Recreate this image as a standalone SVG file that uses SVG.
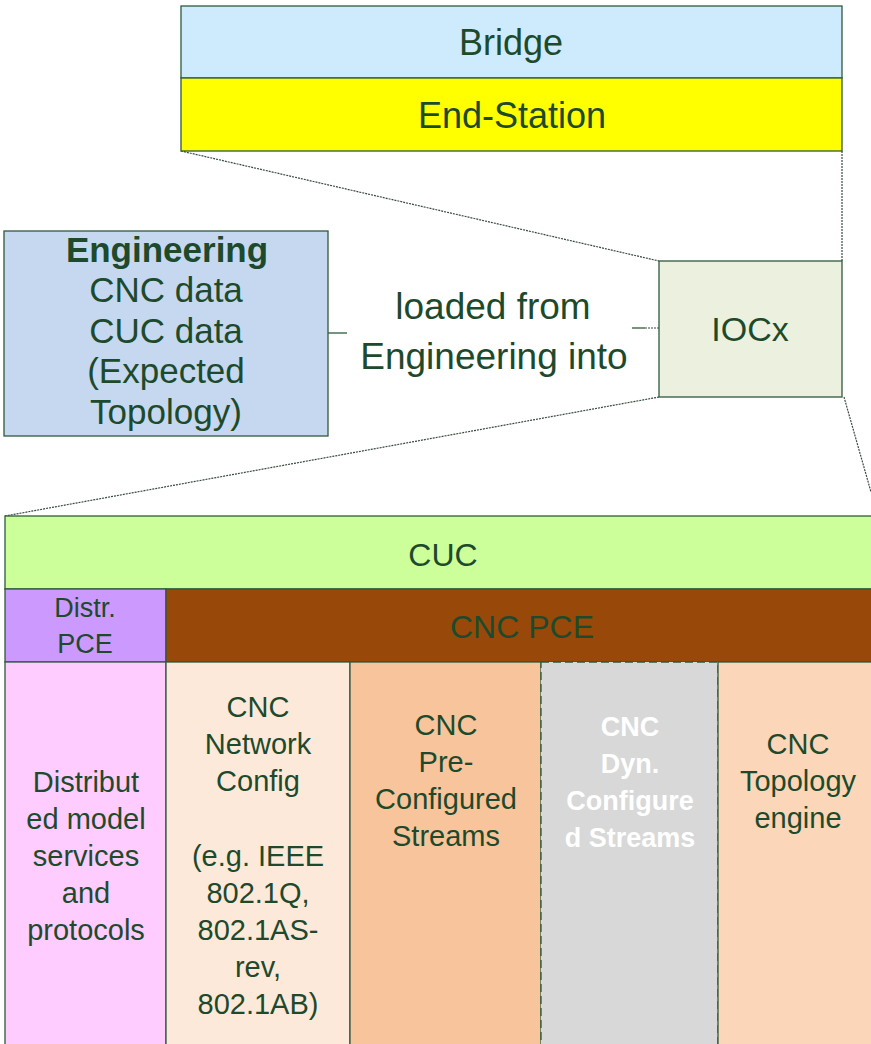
<svg xmlns="http://www.w3.org/2000/svg" width="871" height="1044" viewBox="0 0 871 1044">
<style>
text{font-family:"Liberation Sans",Arial,sans-serif;fill:#1d4a2c;text-anchor:middle}
.b{stroke:#2e5a3c;stroke-width:1.3}
.dot{stroke:#3a4a40;stroke-width:1.2;stroke-dasharray:2 1;fill:none}
.t28{font-size:29px}
.w{fill:#ffffff;font-weight:bold;font-size:27px}
</style>
<rect width="871" height="1044" fill="#ffffff"/>
<g id="connectors">
<line class="dot" x1="181" y1="151" x2="659" y2="261"/>
<line class="dot" x1="842" y1="151" x2="842" y2="261"/>
<line class="dot" x1="659" y1="397" x2="5" y2="516"/>
<line class="dot" x1="844" y1="397" x2="871" y2="492"/>
<line x1="328" y1="333" x2="347" y2="333" stroke="#2e5a3c" stroke-width="1.3"/>
<line x1="632" y1="328" x2="645" y2="328" stroke="#2e5a3c" stroke-width="1.3"/>
<line class="dot" x1="645" y1="328" x2="659" y2="328"/>
<g id="label-loaded">
<text x="493" y="319" font-size="37">loaded from</text>
<text x="494" y="369" font-size="37">Engineering into</text>
</g>
</g>
<g id="bridge">
<rect class="b" x="181" y="6" width="661" height="72" fill="#cdebfd"/>
<text x="511" y="55" font-size="36">Bridge</text>
</g>
<g id="end-station">
<rect class="b" x="181" y="78" width="661" height="73" fill="#ffff00"/>
<text x="512" y="128" font-size="36">End-Station</text>
</g>
<g id="engineering">
<rect class="b" x="4" y="231" width="324" height="205" fill="#c5d8f0"/>
<text x="167" y="262" font-size="35" font-weight="bold">Engineering</text>
<text x="166" y="302" font-size="35">CNC data</text>
<text x="166" y="343" font-size="35">CUC data</text>
<text x="166" y="383" font-size="35">(Expected</text>
<text x="166" y="424" font-size="35">Topology)</text>
</g>
<g id="iocx">
<rect class="b" x="659" y="261" width="183" height="136" fill="#ebf1de"/>
<text x="750" y="341" font-size="34">IOCx</text>
</g>
<g id="cuc">
<rect class="b" x="5" y="516" width="870" height="73" fill="#ccff99"/>
<text x="443" y="566" font-size="32">CUC</text>
</g>
<g id="distr-pce">
<rect class="b" x="5" y="589" width="161" height="73" fill="#cc99ff"/>
<text x="85" y="617" font-size="27">Distr.</text>
<text x="85" y="653" font-size="27">PCE</text>
</g>
<g id="cnc-pce">
<rect class="b" x="166" y="589" width="709" height="73" fill="#984808"/>
<text x="522" y="638" font-size="32">CNC PCE</text>
</g>
<g id="distributed">
<rect class="b" x="5" y="662" width="161" height="390" fill="#ffccff"/>
<text class="t28" x="86" y="792">Distribut</text>
<text class="t28" x="86" y="829">ed model</text>
<text class="t28" x="86" y="866">services</text>
<text class="t28" x="86" y="903">and</text>
<text class="t28" x="86" y="940">protocols</text>
</g>
<g id="network-config">
<rect class="b" x="166" y="662" width="184" height="390" fill="#fde9d9"/>
<text class="t28" x="258" y="717">CNC</text>
<text class="t28" x="258" y="754">Network</text>
<text class="t28" x="258" y="791">Config</text>
<text class="t28" x="258" y="866">(e.g. IEEE</text>
<text class="t28" x="258" y="903">802.1Q,</text>
<text class="t28" x="258" y="940">802.1AS-</text>
<text class="t28" x="258" y="977">rev,</text>
<text class="t28" x="258" y="1014">802.1AB)</text>
</g>
<g id="pre-configured">
<rect class="b" x="350" y="662" width="191" height="390" fill="#f8c49b"/>
<text class="t28" x="446" y="735">CNC</text>
<text class="t28" x="446" y="772">Pre-</text>
<text class="t28" x="446" y="809">Configured</text>
<text class="t28" x="446" y="846">Streams</text>
</g>
<g id="dyn-configured">
<rect x="541" y="662" width="177" height="390" fill="#d8d8d8" stroke="#2e5a3c" stroke-width="1.3" stroke-dasharray="8 4"/>
<text class="w" x="630" y="736">CNC</text>
<text class="w" x="630" y="773">Dyn.</text>
<text class="w" x="630" y="810">Configure</text>
<text class="w" x="630" y="847">d Streams</text>
</g>
<g id="topology-engine">
<rect class="b" x="718" y="662" width="157" height="390" fill="#fbd6b8"/>
<text class="t28" x="798" y="754">CNC</text>
<text class="t28" x="798" y="791">Topology</text>
<text class="t28" x="798" y="828">engine</text>
</g>
</svg>
